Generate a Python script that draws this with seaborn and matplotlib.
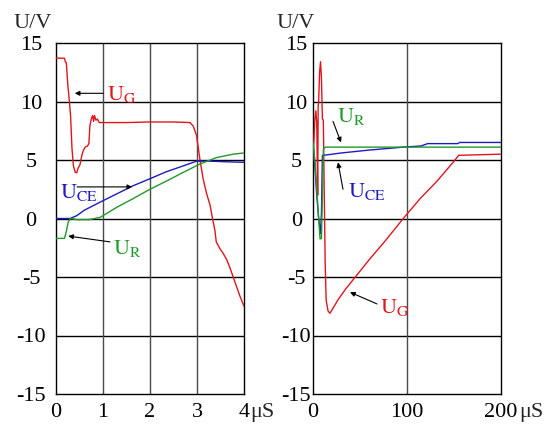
import matplotlib
matplotlib.use("Agg")
import matplotlib.pyplot as plt
import seaborn as sns
import numpy as np

# ---------------- data ----------------
# Left panel: time in microseconds (0..4)
left_t_ug = [0, 0.18, 0.2, 0.22, 0.25, 0.28, 0.31, 0.34, 0.37, 0.41, 0.44, 0.47, 0.51,
             0.55, 0.58, 0.62, 0.67, 0.70, 0.72, 0.75, 0.78, 0.80, 0.82, 0.85, 0.88,
             0.92, 1.0, 1.5, 2.0, 2.5, 2.85, 2.92, 2.99, 3.06, 3.13, 3.2, 3.28, 3.33,
             3.38, 3.41, 3.49, 3.56, 3.63, 3.7, 3.77, 3.84, 3.91, 4.0]
left_ug = [13.7, 13.7, 13.4, 13.3, 11.5, 10.2, 8.8, 6.0, 4.5, 3.95, 3.9, 4.3, 4.6,
           5.4, 5.8, 6.1, 6.2, 6.4, 7.9, 8.5, 8.8, 8.3, 8.8, 8.4, 8.5,
           8.2, 8.2, 8.2, 8.25, 8.25, 8.2, 7.9, 7.1, 5.1, 3.4, 2.2, 1.1, 0.0,
           -1.0, -2.0, -2.6, -3.0, -3.5, -4.2, -5.0, -5.8, -6.6, -7.5]

left_t_uce = [0, 0.3, 0.44, 0.6, 0.72, 0.94, 1.29, 1.64, 2.0, 2.35, 2.71, 2.99, 3.3, 3.6, 4.0]
left_uce = [0, 0, 0.24, 0.7, 0.95, 1.4, 2.1, 2.8, 3.4, 4.0, 4.5, 4.9, 4.9, 4.85, 4.8]

left_t_ur = [0, 0.18, 0.22, 0.26, 0.31, 0.45, 0.7, 0.94, 1.29, 1.64, 2.0, 2.35, 2.71,
             3.06, 3.41, 3.77, 4.0]
left_ur = [-1.7, -1.7, -1.1, -0.3, 0.0, -0.1, -0.1, 0.1, 0.95, 1.7, 2.5, 3.2, 3.95,
           4.65, 5.2, 5.5, 5.6]

# Right panel: time in microseconds (0..200)
right_t_ug = [0, 2, 3, 4, 5, 5.5, 6, 7, 8, 9, 10, 11, 12, 13, 14, 16, 18, 21, 27, 35,
              45, 60, 78, 96, 114, 132, 149, 155, 200]
right_ug = [5.0, 8.5, 9.2, 8.2, 2.0, 9.6, 10.0, 12.5, 13.4, 12.0, 8.5, 8.4, 2.0, -4.0,
            -7.0, -7.9, -8.1, -7.7, -6.9, -6.0, -5.0, -3.5, -1.8, 0.0, 1.7, 3.2, 4.8,
            5.4, 5.5]

right_t_uce = [0, 2, 4, 6, 8, 9, 10, 11, 30, 60, 96, 115, 122, 154, 156, 200]
right_uce = [6.5, 4.5, 2.0, 0.0, -1.3, 0.5, 5.4, 5.4, 5.6, 5.85, 6.1, 6.2, 6.4, 6.4, 6.5, 6.5]

right_t_ur = [0, 2, 4, 6, 7.5, 9, 10, 11, 13, 200]
right_ur = [6.5, 5.0, 2.5, 0.0, -1.75, -1.7, 2.0, 5.9, 6.1, 6.1]

yticks = [-15, -10, -5, 0, 5, 10, 15]
left_xticks = [0, 1, 2, 3, 4]
left_xlabels = ["0", "1", "2", "3", "4"]
right_xticks = [0, 100, 200]
right_xlabels = ["0", "100", "200"]

RED = "#e0161c"
BLUE = "#1c1cc0"
GREEN = "#1f9a2a"

# ---------------- style ----------------
sns.set_theme(style="white")
plt.rcParams["font.family"] = ["Liberation Serif", "DejaVu Serif"]
plt.rcParams["mathtext.fontset"] = "stix"
FS = 16
XPAD = 6.5

fig = plt.figure(figsize=(5.51, 4.28), dpi=100)
axL = fig.add_axes([56 / 551, 34 / 428, 188 / 551, 351 / 428])
axR = fig.add_axes([313 / 551, 34 / 428, 188 / 551, 351 / 428])


def style_axes(ax, xlim, xticks, xlabels, ypad):
    ax.set_xlim(*xlim)
    ax.set_ylim(-15, 15)
    ax.set_yticks(yticks)
    ax.set_yticklabels([str(v) for v in yticks])
    ax.set_xticks(xticks)
    ax.set_xticklabels(xlabels)
    for v in yticks[1:-1]:
        ax.axhline(v, color="black", lw=1.0, zorder=1)
    for v in xticks[1:-1]:
        ax.axvline(v, color="#4a4a4a", lw=1.0, zorder=1)
    for s in ax.spines.values():
        s.set_color("black")
        s.set_linewidth(1.0)
        s.set_visible(True)
    ax.tick_params(axis="both", length=0, labelsize=FS, colors="black")
    ax.tick_params(axis="y", pad=ypad)
    ax.tick_params(axis="x", pad=XPAD)
    for lab in ax.get_yticklabels():
        lab.set_horizontalalignment("center")
    ax.set_xlabel("")
    ax.set_ylabel("")


def draw(ax, t, v, color):
    sns.lineplot(x=t, y=v, ax=ax, color=color, lw=1.0, estimator=None, sort=False,
                 zorder=3)


draw(axL, left_t_ug, left_ug, RED)
draw(axL, left_t_uce, left_uce, BLUE)
draw(axL, left_t_ur, left_ur, GREEN)
draw(axR, right_t_ug, right_ug, RED)
draw(axR, right_t_uce, right_uce, BLUE)
draw(axR, right_t_ur, right_ur, GREEN)

style_axes(axL, (0, 4), left_xticks, left_xlabels, 18)
style_axes(axR, (0, 200), right_xticks, right_xlabels, 12)

# unit suffixes on last x tick
axL.annotate("\u03bcS", xy=(1, 0), xycoords="axes fraction", xytext=(4.3, -XPAD),
             textcoords="offset points", ha="left", va="top", fontsize=FS)
axR.annotate("\u03bcS", xy=(1, 0), xycoords="axes fraction", xytext=(13, -XPAD),
             textcoords="offset points", ha="left", va="top", fontsize=FS)

# y-axis unit labels
fig.text(33 / 551, 1 - 24 / 428, "U/V", ha="center", va="center", fontsize=FS)
fig.text(296 / 551, 1 - 23 / 428, "U/V", ha="center", va="center", fontsize=FS)

arrow = dict(arrowstyle="-|>", color="black", lw=0.8, mutation_scale=7,
             shrinkA=0, shrinkB=0)

# left annotations
axL.text(1.085, 10.6, r"$\mathrm{U_G}$", color=RED, fontsize=FS, ha="left", va="center")
axL.annotate("", xy=(0.40, 10.7), xytext=(1.0, 10.7), arrowprops=arrow)
axL.text(0.085, 2.26, r"$\mathrm{U_{CE}}$", color=BLUE, fontsize=FS, ha="left", va="center")
axL.annotate("", xy=(1.62, 2.7), xytext=(0.45, 2.7), arrowprops=arrow)
axL.text(1.21, -2.6, r"$\mathrm{U_R}$", color=GREEN, fontsize=FS, ha="left", va="center")
axL.annotate("", xy=(0.26, -1.5), xytext=(1.15, -2.0), arrowprops=arrow)

# right annotations
axR.text(25.5, 8.76, r"$\mathrm{U_R}$", color=GREEN, fontsize=FS, ha="left", va="center")
axR.annotate("", xy=(29.8, 6.5), xytext=(21.3, 8.3), arrowprops=arrow)
axR.text(37.2, 2.35, r"$\mathrm{U_{CE}}$", color=BLUE, fontsize=FS, ha="left", va="center")
axR.annotate("", xy=(26.6, 4.8), xytext=(31.9, 2.5), arrowprops=arrow)
axR.text(71.3, -7.6, r"$\mathrm{U_G}$", color=RED, fontsize=FS, ha="left", va="center")
axR.annotate("", xy=(39.4, -6.3), xytext=(68.0, -7.3), arrowprops=arrow)

fig.savefig("out.png", dpi=100, facecolor="white")
